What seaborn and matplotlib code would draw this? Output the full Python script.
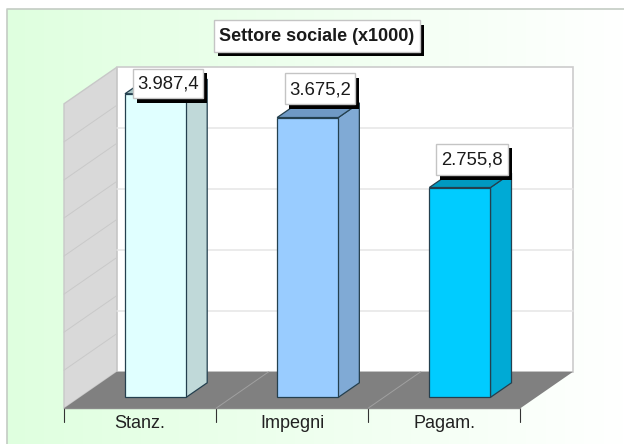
import numpy as np
import matplotlib
matplotlib.use('Agg')
import matplotlib.pyplot as plt
from matplotlib.patches import Polygon, Rectangle
from matplotlib.transforms import Affine2D
import seaborn as sns

categories = ['Stanz.', 'Impegni', 'Pagam.']
values = [3987.4, 3675.2, 2755.8]
value_labels = ['3.987,4', '3.675,2', '2.755,8']
back_grid = [800, 1600, 2400, 3200]
wall_grid = [500, 1000, 1500, 2000, 2500, 3000, 3500]
title = 'Settore sociale (x1000)'

front_colors = ['#E0FFFF', '#99CCFF', '#00CCFF']
side_colors = ['#C0D9D9', '#80AAD5', '#00AAD5']
top_colors = ['#A8C4C4', '#6F99C4', '#0099C0']
edge_color = '#24404F'

W, H = 624, 444
BASE_Y = 397.3          # pixel row of value 0 at the front of the bars
PX_PER_UNIT = 304.5 / 4000
CENTER_0, STEP = 155.6, 152.15
BAR_W = 61.2 / STEP
DX, DY = 21, -14.5      # bar depth
WALL_DX, WALL_DY = 52.7, -36.5

plt.rcParams['font.family'] = ['Liberation Sans', 'DejaVu Sans']
sns.set_theme(style='white', rc={'font.family': ['Liberation Sans', 'DejaVu Sans']})

fig = plt.figure(figsize=(W / 100, H / 100), dpi=100, facecolor='white')
ax = fig.add_axes([0, 0, 1, 1])
ax.axis('off')

# pixel coords with origin top left, for the chart furniture
px = Affine2D().scale(1, -1).translate(0, H)

# background gradient
grad = np.linspace(0, 1, 256) ** 1.0
grad_img = np.zeros((2, 256, 3))
grad_img[:, :, 0] = 0.875 + 0.125 * grad
grad_img[:, :, 1] = 1
grad_img[:, :, 2] = 0.875 + 0.125 * grad
im = ax.imshow(grad_img, aspect='auto', zorder=0, interpolation='bilinear',
               extent=(7, W, H, 9), transform=px)
ax.plot([6.5, 6.5, W], [H, 8.5, 8.5], color='#C4CCC4', lw=1.2, transform=px, zorder=1)


def poly(points, face, edge='none', lw=0.8, z=2):
    ax.add_patch(Polygon(points, closed=True, facecolor=face, edgecolor=edge,
                         linewidth=lw, transform=px, zorder=z))


L, R, FRONT, BACK = 64, 520.3, 408.3, 371.8
TOP = BACK - 304.5
# back wall, side wall, floor
poly([(L + WALL_DX, TOP), (R + WALL_DX, TOP), (R + WALL_DX, BACK), (L + WALL_DX, BACK)],
     'white', '#CCCCCC', 1.2)
poly([(L, TOP - WALL_DY), (L + WALL_DX, TOP), (L + WALL_DX, BACK), (L, FRONT)],
     '#D9D9D9', '#C8C8C8', 1.0)
poly([(L, FRONT), (R, FRONT), (R + WALL_DX, BACK), (L + WALL_DX, BACK)], '#808080', z=3)

# gridlines, wall and back do not share the same step in the original
for v in back_grid:
    y = BACK - v * PX_PER_UNIT
    ax.plot([L + WALL_DX, R + WALL_DX], [y, y], color='#E6E6E6', lw=1.1, transform=px, zorder=2.5)
for v in wall_grid:
    y = BACK - v * PX_PER_UNIT
    ax.plot([L, L + WALL_DX], [y - WALL_DY, y], color='#C9C9C9', lw=0.7, transform=px, zorder=2.5)

sep_x = [L, 216, 368, R]
for x in sep_x:
    ax.plot([x, x], [FRONT, FRONT + 14], color='#333333', lw=0.8, transform=px, zorder=3)
for x in sep_x[1:3]:
    ax.plot([x, x + WALL_DX], [FRONT, BACK], color='#A0A0A0', lw=0.7, transform=px, zorder=3.1)
ax.plot([L, R], [FRONT, FRONT], color='#8A8A8A', lw=1, transform=px, zorder=3.1)

sns.barplot(x=categories, y=values, hue=categories, palette=front_colors, legend=False,
            width=BAR_W, saturation=1, edgecolor=edge_color, linewidth=0.9, ax=ax, zorder=5)
ax.axis('off')

# whole figure is the axes, so limits follow from the pixel scale
ax.set_xlim(-CENTER_0 / STEP, (W - CENTER_0) / STEP)
ax.set_ylim(-(H - BASE_Y) / PX_PER_UNIT, BASE_Y / PX_PER_UNIT)

# depth faces of the bars
bars = [b for cont in ax.containers for b in cont]
for i, bar in enumerate(bars):
    x0 = CENTER_0 + (bar.get_x() * STEP)
    x1 = x0 + bar.get_width() * STEP
    y0 = BASE_Y - bar.get_height() * PX_PER_UNIT
    poly([(x1, y0), (x1 + DX, y0 + DY), (x1 + DX, BASE_Y + DY), (x1, BASE_Y)],
         side_colors[i], edge_color, 0.9, z=4.5)
    poly([(x0, y0), (x0 + DX, y0 + DY), (x1 + DX, y0 + DY), (x1, y0)],
         top_colors[i], edge_color, 0.9, z=4.5)


def label_box(x0, y0, x1, y1, text, **kw):
    ax.add_patch(Rectangle((x0 + 4, y0 + 4.5), x1 - x0, y1 - y0, facecolor='black',
                           edgecolor='none', transform=px, zorder=7))
    ax.add_patch(Rectangle((x0, y0), x1 - x0, y1 - y0, facecolor='white', edgecolor='#C4C4C4',
                           linewidth=1.0, transform=px, zorder=8))
    ax.text((x0 + x1) / 2, (y0 + y1) / 2 + 1, text, ha='center', va='center', transform=px,
            color='#1A1A1A', zorder=9, **kw)


label_box(213.5, 20, 420, 51.5, title, fontsize=13, fontweight='bold')
boxes = [(133, 68.5, 203, 98), (285, 73, 355, 104), (436, 143.5, 507.5, 175)]
for box, txt in zip(boxes, value_labels):
    label_box(*box, txt, fontsize=13.3)

# category labels sit under the front plane cells
for i, cat in enumerate(categories):
    ax.text((sep_x[i] + sep_x[i + 1]) / 2, 423.5, cat, ha='center', va='center', transform=px,
            fontsize=13, color='#222222', zorder=9)

fig.savefig('out.png', dpi=100, facecolor='white')
